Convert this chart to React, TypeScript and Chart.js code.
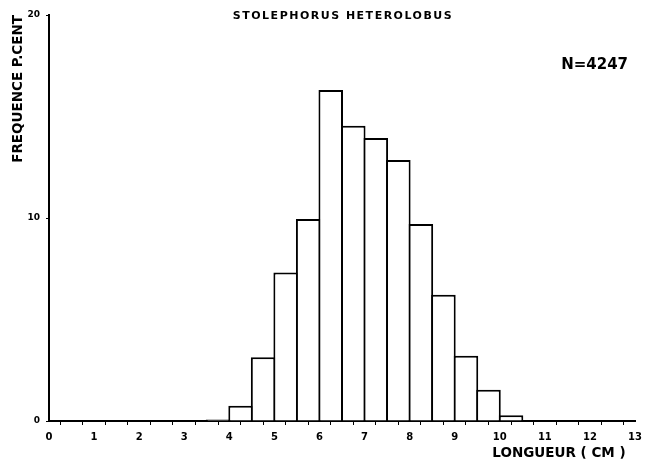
import React, { useEffect, useRef } from "react";
import { Chart, registerables } from "chart.js";

Chart.register(...registerables);

const TITLE = "STOLEPHORUS HETEROLOBUS";
const SAMPLE_LABEL = "N=4247";
const X_TITLE = "LONGUEUR ( CM )  ";
const Y_TITLE = "FREQUENCE P.CENT";

// start of each 0.5 cm length class
const binStarts = [3.5, 4, 4.5, 5, 5.5, 6, 6.5, 7, 7.5, 8, 8.5, 9, 9.5, 10];
// percentage frequency per class
const frequencies = [0.07, 0.75, 3.14, 7.31, 9.95, 16.3, 14.55, 13.94, 12.86, 9.7, 6.22, 3.22, 1.54, 0.28];
const binWidth = 0.5;

const xMin = 0;
const xMax = 13;
const yMin = 0;
const yMax = 20;
const yTickValues = [0, 10, 20];

const FONT = "'DejaVu Sans', sans-serif";

const annotationPlugin = {
  id: "annotations",
  afterDraw(chart: any) {
    const { ctx, chartArea } = chart;
    ctx.save();
    ctx.fillStyle = "#000";
    ctx.font = `bold 11px ${FONT}`;
    ctx.textAlign = "center";
    ctx.textBaseline = "middle";
    (ctx as any).letterSpacing = "1.5px";
    ctx.fillText(TITLE, (chartArea.left + chartArea.right) / 2 + 1, 16);
    (ctx as any).letterSpacing = "0px";
    ctx.font = `bold 15px ${FONT}`;
    ctx.textAlign = "right";
    ctx.fillText(SAMPLE_LABEL, chartArea.right - 7, 65);
    ctx.restore();
  },
};

export default function App() {
  const ref = useRef<HTMLCanvasElement>(null);

  useEffect(() => {
    if (!ref.current) return;
    const data = binStarts.map((s, i) => ({ x: s + binWidth / 2, y: frequencies[i] }));
    // plot width 586px over 13 cm; widen bars by one border so neighbours share a single line
    const binPx = (586 / (xMax - xMin)) * binWidth;
    const chart = new Chart(ref.current, {
      type: "bar",
      data: {
        datasets: [
          {
            data: data as any,
            backgroundColor: "#ffffff",
            borderColor: "#000000",
            borderWidth: 2,
            barPercentage: (binPx + 2) / binPx,
            categoryPercentage: 1,
          },
        ],
      },
      plugins: [annotationPlugin],
      options: {
        responsive: false,
        animation: false,
        layout: { padding: { left: 0, right: 20, top: 15, bottom: 0 } },
        plugins: { legend: { display: false }, tooltip: { enabled: false }, title: { display: false } },
        scales: {
          x: {
            type: "linear",
            min: xMin,
            max: xMax,
            offset: false,
            afterFit: (scale: any) => {
              scale.height = 47;
            },
            border: { display: true, color: "#000", width: 2 },
            grid: { drawOnChartArea: false, tickLength: 4, color: "#000", lineWidth: 1 },
            ticks: {
              stepSize: 0.5,
              autoSkip: false,
              maxRotation: 0,
              padding: 6,
              color: "#000",
              font: { family: FONT, size: 10, weight: "bold" },
              callback: (v: any) => (Number.isInteger(v) ? String(v) : ""),
            },
            title: {
              display: true,
              text: X_TITLE,
              align: "end",
              color: "#000",
              font: { family: FONT, size: 13.5, weight: "bold" },
              padding: { top: 0, bottom: 6 },
            },
          },
          y: {
            type: "linear",
            min: yMin,
            max: yMax,
            afterFit: (scale: any) => {
              scale.width = 49;
            },
            afterBuildTicks: (scale: any) => {
              scale.ticks = yTickValues.map((v) => ({ value: v }));
            },
            border: { display: true, color: "#000", width: 2 },
            grid: { drawOnChartArea: false, tickLength: 3, color: "#000" },
            ticks: {
              padding: 6,
              color: "#000",
              font: { family: FONT, size: 9, weight: "bold" },
            },
            title: {
              display: true,
              text: Y_TITLE,
              align: "end",
              color: "#000",
              font: { family: FONT, size: 13.5, weight: "bold" },
              padding: { top: 10, bottom: 0 },
            },
          },
        },
      },
    } as any);
    return () => chart.destroy();
  }, []);

  return (
    <div style={{ position: "fixed", left: 0, top: 0, width: 655, height: 468, background: "#fff" }}>
      <canvas ref={ref} width={655} height={468} />
    </div>
  );
}
